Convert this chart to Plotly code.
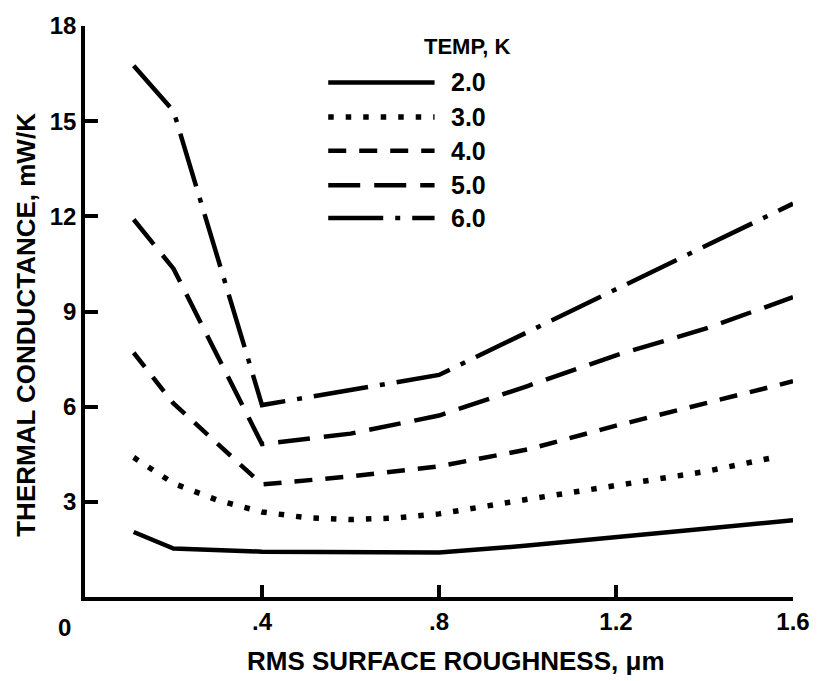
import plotly.graph_objects as go

# ---- data ----
temps = ["2.0", "3.0", "4.0", "5.0", "6.0"]

x_t2 = [0.11, 0.20, 0.40, 0.80, 1.00, 1.20, 1.40, 1.60]
y_t2 = [2.05, 1.53, 1.43, 1.40, 1.62, 1.90, 2.15, 2.42]

x_t3 = [0.11, 0.20, 0.30, 0.40, 0.50, 0.60, 0.70, 0.80, 1.00, 1.20, 1.40, 1.55]
y_t3 = [4.40, 3.58, 3.05, 2.68, 2.50, 2.44, 2.49, 2.62, 3.08, 3.52, 3.95, 4.38]

x_t4 = [0.11, 0.20, 0.40, 0.60, 0.80, 1.00, 1.20, 1.40, 1.60]
y_t4 = [7.70, 6.10, 3.55, 3.80, 4.12, 4.65, 5.40, 6.10, 6.80]

x_t5 = [0.11, 0.20, 0.40, 0.60, 0.80, 1.00, 1.20, 1.40, 1.60]
y_t5 = [11.90, 10.35, 4.82, 5.15, 5.72, 6.65, 7.62, 8.45, 9.45]

x_t6 = [0.11, 0.20, 0.40, 0.80, 1.60]
y_t6 = [16.75, 15.32, 6.05, 7.00, 12.40]

x_tickvals = [0.4, 0.8, 1.2, 1.6]
x_ticktext = [".4", ".8", "1.2", "1.6"]
y_tickvals = [3, 6, 9, 12, 15, 18]

series = [(x_t2, y_t2), (x_t3, y_t3), (x_t4, y_t4), (x_t5, y_t5), (x_t6, y_t6)]
dashes = ["solid", "5.5px,12px", "18px,13px", "32px,14px", "55px,12px,5px,12px"]

# ---- layout geometry ----
W, H = 822, 681
ML, MR, MT, MB = 85, 18, 20, 84
PW, PH = W - ML - MR, H - MT - MB


def px_x(px):
    return (px - ML) / PW


def px_y(py):
    return (H - MB - py) / PH


FONT = "Liberation Sans, Arial, sans-serif"
INK = "black"
LW = 4.5

fig = go.Figure()
for (xs, ys), dash, name in zip(series, dashes, temps):
    fig.add_trace(go.Scatter(x=xs, y=ys, mode="lines", name=name,
                             line=dict(color=INK, width=(5.5 if name == "3.0" else LW), dash=dash),
                             hoverinfo="skip"))

shapes = []
annotations = []

# manual legend
row_py = [77, 112, 146, 181, 214]
for py, dash, name in zip(row_py, dashes, temps):
    shapes.append(dict(type="line", xref="paper", yref="paper",
                       x0=px_x(332), x1=px_x(440), y0=px_y(py), y1=px_y(py),
                       line=dict(color=INK, width=(5.5 if name == "3.0" else LW), dash=dash)))
    annotations.append(dict(xref="paper", yref="paper", x=px_x(455), y=px_y(py),
                            xanchor="left", yanchor="middle", showarrow=False,
                            text="<b>" + name + "</b>", font=dict(family=FONT, size=25, color=INK)))
annotations.append(dict(xref="paper", yref="paper", x=px_x(427), y=px_y(41),
                        xanchor="left", yanchor="middle", showarrow=False,
                        text="<b>TEMP, K</b>", font=dict(family=FONT, size=22, color=INK)))
# origin label
annotations.append(dict(xref="paper", yref="paper", x=px_x(64), y=px_y(628),
                        xanchor="center", yanchor="middle", showarrow=False,
                        text="<b>0</b>", font=dict(family=FONT, size=24, color=INK)))
# axis titles
annotations.append(dict(xref="paper", yref="paper", x=px_x(462), y=px_y(662),
                        xanchor="center", yanchor="middle", showarrow=False,
                        text="<b>RMS SURFACE ROUGHNESS, \u03bcm</b>",
                        font=dict(family=FONT, size=26, color=INK)))
annotations.append(dict(xref="paper", yref="paper", x=px_x(25), y=px_y(322),
                        xanchor="center", yanchor="middle", showarrow=False, textangle=-90,
                        text="<b>THERMAL CONDUCTANCE, mW/K</b>",
                        font=dict(family=FONT, size=26, color=INK)))

fig.update_layout(
    width=W, height=H,
    margin=dict(l=ML, r=MR, t=MT, b=MB),
    paper_bgcolor="white", plot_bgcolor="white",
    showlegend=False,
    shapes=shapes, annotations=annotations,
    xaxis=dict(range=[0, 1.6], tickvals=x_tickvals, ticktext=["<b>%s</b>" % t for t in x_ticktext],
               ticks="inside", ticklen=12, tickwidth=3.5, tickcolor="#000000",
               showline=True, linewidth=3.5, linecolor=INK,
               showgrid=False, zeroline=False,
               tickfont=dict(family=FONT, size=24, color=INK)),
    yaxis=dict(range=[0, 18], tickvals=y_tickvals, ticktext=["<b>%d</b>" % v for v in y_tickvals],
               ticks="inside", ticklen=13, tickwidth=3.5, tickcolor="#000000",
               showline=True, linewidth=3.5, linecolor=INK,
               showgrid=False, zeroline=False,
               tickfont=dict(family=FONT, size=24, color=INK)),
)

fig.write_html("out.html")
